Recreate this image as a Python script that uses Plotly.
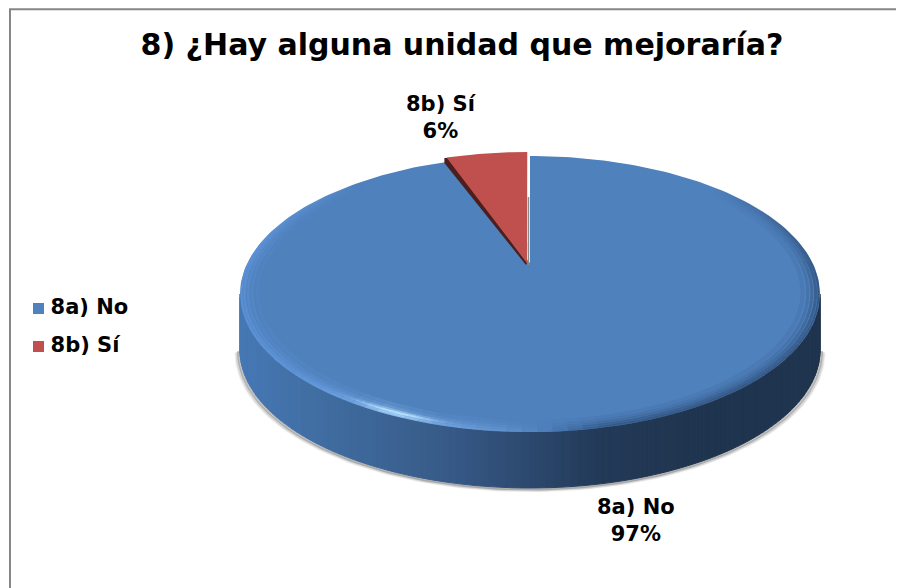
import numpy as np
import plotly.graph_objects as go

# ---- data ----
categories = ["8a) No", "8b) Sí"]
values = [97, 6]
percent_labels = ["97%", "6%"]
title_text = "8) ¿Hay alguna unidad que mejoraría?"

# ---- style / geometry of the tilted disc (pixels of the picture) ----
W, H = 904, 588
PAGE = 8                      # the browser's body margin; axes are set up so data units = page pixels
APEX_X, APEX_Y = 530, 263
A, B, K = 282.6, 131.0, 0.2247
DEPTH = 56
RED_SHIFT = (-2, -4)
FONT = "DejaVu Sans"
TOP_BLUE = "#4f81bd"
TOP_RED = "#c0504d"
INK = "#000000"


def project(theta):
    u, v = np.sin(theta), np.cos(theta)
    d = 1 + K * v
    return APEX_X + A * u / d, APEX_Y - B * v / d


def lerp_color(stops, t):
    xs = [s[0] for s in stops]
    cols = np.array([s[1] for s in stops], dtype=float)
    return tuple(np.interp(t, xs, cols[:, i]) for i in range(3))


def rgb(c, a=1.0):
    return f"rgba({c[0]:.0f},{c[1]:.0f},{c[2]:.0f},{a:.3f})"


def poly(fig, x, y, color, line=None, lw=0):
    fig.add_trace(go.Scatter(
        x=list(x), y=list(y), mode="lines", fill="toself", fillcolor=color,
        line=dict(color=line or color, width=lw), hoverinfo="skip", showlegend=False))


def stroke(fig, x, y, color, lw):
    fig.add_trace(go.Scatter(
        x=list(x), y=list(y), mode="lines",
        line=dict(color=color, width=lw), hoverinfo="skip", showlegend=False))


total = sum(values)
split = 2 * np.pi * values[0] / total   # blue runs clockwise from 12 o'clock to here

fig = go.Figure()

# the widest points of the projected circle (cos(theta) = -K) bound the visible side wall
edge = np.arccos(-K)
front = np.linspace(edge, 2 * np.pi - edge, 121)[::-1]   # left to right along the front
fx, fy = project(front)

# soft shadow under the wall
keep = (fy + DEPTH) > (fy[0] + 40)
for off, alpha, lw in ((4.0, 0.08, 3), (3.0, 0.16, 3), (1.5, 0.35, 3)):
    stroke(fig, APEX_X + (fx[keep] - APEX_X) * (1 + off / 290), fy[keep] + DEPTH + off * 0.7,
           f"rgba(80,80,80,{alpha})", lw)

# side wall, a band of shaded quads
side_stops = [(0.0, (70, 120, 180)), (0.19, (62, 105, 155)), (0.36, (55, 90, 135)),
              (0.5, (44, 72, 110)), (0.62, (35, 58, 88)), (0.79, (31, 52, 78)), (1.0, (31, 52, 78))]
for i in range(len(fx) - 1):
    c = rgb(lerp_color(side_stops, (0.5 * (fx[i] + fx[i + 1]) - fx[0]) / (fx[-1] - fx[0])))
    poly(fig, [fx[i], fx[i + 1], fx[i + 1], fx[i], fx[i]],
         [fy[i], fy[i + 1], fy[i + 1] + DEPTH, fy[i] + DEPTH, fy[i]], c, c, 1)

# blue slice (top face)
th_blue = np.linspace(0, split, 240)
bx, by = project(th_blue)
poly(fig, np.r_[APEX_X, bx, APEX_X], np.r_[APEX_Y, by, APEX_Y], TOP_BLUE)

# bevel round the front rim of the blue slice
rim_stops = [(0.0, (96, 150, 222)), (0.1, (100, 155, 225)), (0.2, (120, 170, 235)),
             (0.26, (175, 220, 255)), (0.34, (120, 170, 230)), (0.45, (100, 150, 210)),
             (0.52, (79, 129, 189)), (0.62, (50, 85, 130)), (1.0, (45, 75, 115))]
rim = np.linspace(np.radians(50), np.radians(315), 110)
mid = 0.5 * (rim[:-1] + rim[1:])
fade = np.clip(np.minimum(mid - rim[0], rim[-1] - mid) / np.radians(40), 0, 1)
for scale, width, alpha in ((0.940, 4, 0.12), (0.958, 3, 0.25), (0.972, 3, 0.40),
                            (0.985, 3, 0.60), (0.995, 2, 0.75)):
    qx, qy = project(rim)
    qx = APEX_X + (qx - APEX_X) * scale
    qy = APEX_Y + (qy - APEX_Y) * scale
    for i in range(len(rim) - 1):
        t = (0.5 * (qx[i] + qx[i + 1]) - fx[0]) / (fx[-1] - fx[0])
        stroke(fig, qx[i:i + 2], qy[i:i + 2], rgb(lerp_color(rim_stops, t), alpha * fade[i]), width)

# bright glint along the front-left rim
glint = np.linspace(np.radians(190), np.radians(240), 40)
gx, gy = project(glint)
gx = APEX_X + (gx - APEX_X) * 0.978
gy = APEX_Y + (gy - APEX_Y) * 0.978
peak = np.exp(-(((0.5 * (gx[:-1] + gx[1:]) - 397) / 32) ** 2))
for i in range(len(gx) - 1):
    stroke(fig, gx[i:i + 2], gy[i:i + 2], rgb((185, 228, 255), 0.3 * peak[i]), 5)
    stroke(fig, gx[i:i + 2], gy[i:i + 2], rgb((185, 228, 255), 0.9 * peak[i]), 2)

# red slice with its dark cut face, pulled slightly out of the disc
th_red = np.linspace(split, 2 * np.pi, 40)
rx, ry = project(th_red)
rx, ry = rx + RED_SHIFT[0], ry + RED_SHIFT[1]
ax, ay = APEX_X + RED_SHIFT[0] - 1, APEX_Y
poly(fig, [rx[0] + 4, rx[0], rx[0], ax - 1, ax, rx[0] + 4],
     [ry[0], ry[0], ry[0] + 5, ay + 2, ay, ry[0]], "#4a1f1d")
poly(fig, np.r_[ax, rx[0] + 3, rx[1:], ax], np.r_[ay, ry[0], ry[1:], ay], TOP_RED)
stroke(fig, [ax + 1.5, ax + 1.5], [ry[-1], ay - 20], "#ffffff", 2.5)
stroke(fig, [ax + 1.5, ax + 1.5], [ry[-1] + 45, ay + 2], "#8a8a8a", 1.5)

# chart legend
legend_x = [38.5, 38.5]
legend_y = [308.5, 346.5]
fig.add_trace(go.Scatter(
    x=legend_x, y=legend_y, mode="markers+text", text=["\u2009" + c for c in categories],
    textposition="middle right", textfont=dict(family=FONT, size=21, color=INK, weight="bold"),
    marker=dict(symbol="square", size=11, color=[TOP_BLUE, TOP_RED], line=dict(width=0)),
    hoverinfo="skip", showlegend=False))

# data labels
for (lx, ly), cat, pct in zip([(636, 520), (441, 117)], categories, percent_labels):
    fig.add_annotation(x=lx, y=ly, text=f"<b>{cat}<br>{pct}</b>", showarrow=False,
                       font=dict(family=FONT, size=21, color=INK), align="center",
                       xanchor="center", yanchor="middle")

# frame of the chart area (runs off the right and bottom of the picture)
fig.add_shape(type="rect", x0=10, y0=9.2, x1=W + 40, y1=H + 40, line=dict(color="#868686", width=2),
              fillcolor="rgba(0,0,0,0)", layer="below")

fig.update_layout(
    width=W, height=H, autosize=False, showlegend=False,
    margin=dict(l=0, r=0, t=0, b=0), paper_bgcolor="#ffffff", plot_bgcolor="#ffffff",
    title=dict(text=f"<b>{title_text}</b>", x=(462 - PAGE) / W, xanchor="center", xref="paper",
               y=1 - (44 - PAGE) / H, yanchor="middle", yref="container",
               font=dict(family=FONT, size=30, color=INK)),
    xaxis=dict(range=[PAGE, W + PAGE], visible=False, fixedrange=True),
    yaxis=dict(range=[H + PAGE, PAGE], visible=False, fixedrange=True),
)

fig.write_html("out.html", config={"displayModeBar": False})
